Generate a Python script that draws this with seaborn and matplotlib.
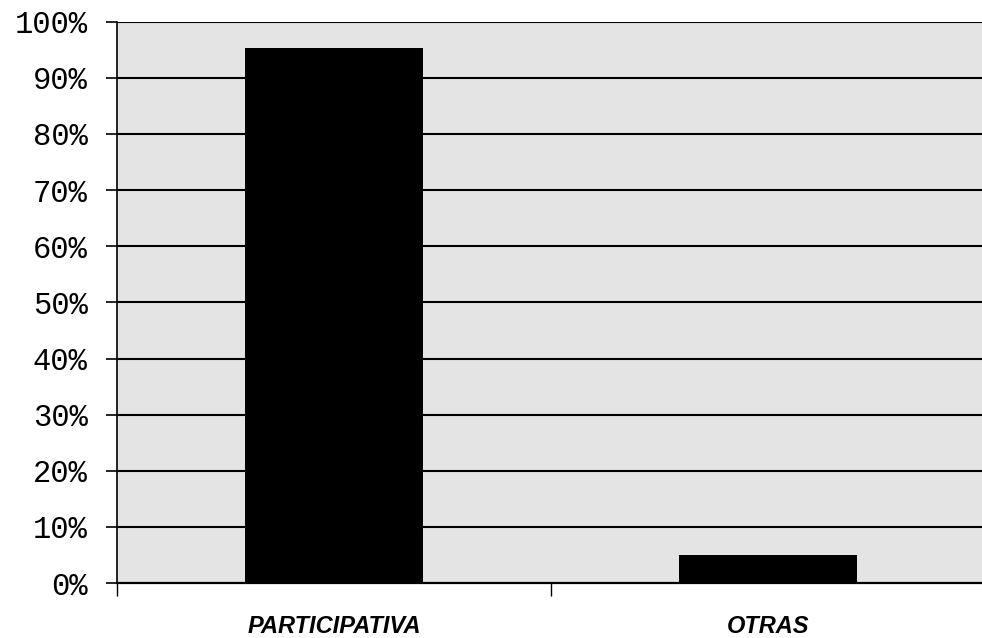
import matplotlib
matplotlib.use("Agg")
import matplotlib.pyplot as plt
import seaborn as sns
import pandas as pd
from matplotlib.patches import Rectangle
from matplotlib.ticker import FixedLocator, PercentFormatter

categorias = ["PARTICIPATIVA", "OTRAS"]
porcentajes = [95.4, 5.0]
yticks = list(range(0, 101, 10))

df = pd.DataFrame({"cat": categorias, "pct": porcentajes})

sns.set_style("white")
plt.rcParams["hatch.color"] = "#7a7a7a"
plt.rcParams["hatch.linewidth"] = 1.0

fig = plt.figure(figsize=(9.82, 6.38), dpi=100)
ax = fig.add_axes([0.119, 0.086, 0.884, 0.880])

# fondo punteado (aprox. tono gris claro)
fondo = Rectangle((0, 0), 1, 1, transform=ax.transAxes, facecolor="#e4e4e4",
                  edgecolor="none", hatch="...", zorder=0)
ax.add_patch(fondo)

for y in yticks[1:]:
    ax.axhline(y, color="black", lw=1.5, zorder=1)

sns.barplot(data=df, x="cat", y="pct", color="black", saturation=1,
            width=0.41, edgecolor="black", linewidth=0, ax=ax, zorder=3)

ax.set_ylim(0, 100)
ax.set_xlim(-0.5, 1.5)
ax.set_yticks(yticks)
ax.yaxis.set_major_formatter(PercentFormatter(decimals=0))
ax.set_xlabel("")
ax.set_ylabel("")

for s in ["top", "right"]:
    ax.spines[s].set_visible(False)
ax.spines["left"].set_color("black")
ax.spines["left"].set_linewidth(1.2)
ax.spines["bottom"].set_color("black")
ax.spines["bottom"].set_linewidth(1.6)

ax.tick_params(axis="y", direction="out", length=8, width=1.2, pad=13,
               left=True, labelsize=22, colors="black")
for lab in ax.get_yticklabels():
    lab.set_family(["Liberation Mono", "DejaVu Sans Mono"])

ax.tick_params(axis="x", which="major", length=0, pad=23, labelsize=17,
               labelcolor="black")
for lab in ax.get_xticklabels():
    lab.set_family(["Liberation Sans Narrow", "Liberation Sans", "DejaVu Sans"])
    lab.set_style("italic")
    lab.set_weight("bold")
ax.xaxis.set_minor_locator(FixedLocator([-0.5, 0.5]))
ax.tick_params(axis="x", which="minor", bottom=True, direction="out",
               length=9, width=1.0, color="black")

fig.savefig("out.png", dpi=100)
